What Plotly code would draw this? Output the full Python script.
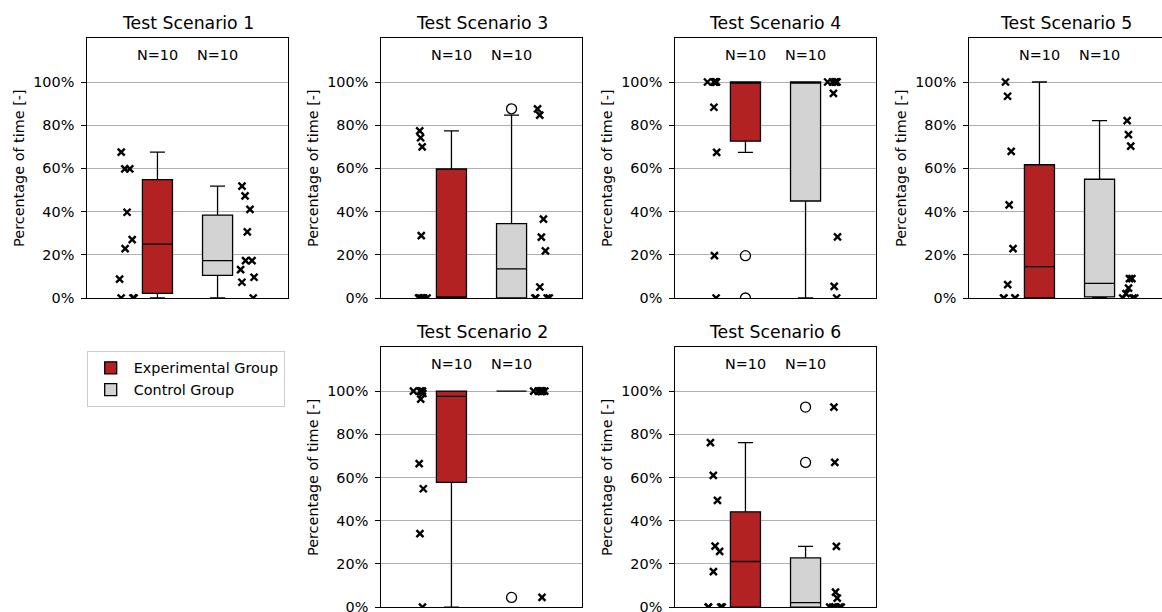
import numpy as np
import plotly.graph_objects as go

# ---- data: percentage of time per participant (N=10 per group) ----
scenario_names = ["Test Scenario 1", "Test Scenario 3", "Test Scenario 4",
                  "Test Scenario 5", "Test Scenario 2", "Test Scenario 6"]
group_names = ["Experimental Group", "Control Group"]

experimental = [
    [0, 0, 0, 8.7, 22.9, 27.0, 39.7, 59.8, 59.8, 67.5],
    [0, 0, 0, 0, 0, 0, 28.9, 70.0, 74.2, 77.4],
    [0, 19.6, 67.4, 88.3, 100, 100, 100, 100, 100, 100],
    [0, 0, 0, 0, 6.2, 22.9, 43.1, 67.9, 93.4, 100],
    [0, 34.0, 54.8, 66.4, 96.3, 98.9, 100, 100, 100, 100],
    [0, 0, 0, 0, 16.4, 25.8, 28.2, 49.4, 61.0, 76.1],
]
control = [
    [0, 7.3, 9.6, 13.1, 17.3, 17.3, 30.6, 41.0, 47.3, 51.8],
    [0, 0, 0, 0, 5.1, 21.8, 28.2, 36.5, 84.7, 87.6],
    [0, 5.4, 28.3, 94.7, 100, 100, 100, 100, 100, 100],
    [0, 0, 0, 2.0, 4.6, 9.0, 9.0, 70.3, 75.6, 82.1],
    [4.5, 100, 100, 100, 100, 100, 100, 100, 100, 100],
    [0, 0, 0, 0, 0, 4.2, 6.9, 28.1, 67.0, 92.6],
]
y_ticks = [0, 20, 40, 60, 80, 100]
y_tick_text = [f"{v}%" for v in y_ticks]

# ---- styling / layout ----
W, H = 1162, 612
FONT = "DejaVu Sans"
BASE = 14.4
group_colors = ["#b22222", "#d3d3d3"]
box_pos = [1, 2]
point_offset = [-0.5, 0.5]

cells = [(0, 0), (0, 1), (0, 2), (0, 3), (1, 1), (1, 2)]
col_left = [87.3, 381.3, 675.3, 969.3]
col_w = 200.4
row_top = [38.3, 347.4]
row_h = 259.7
px_per_unit = col_w / 3.334
x_left = -0.167
y_top = row_h / 2.16


def box_stats(vals):
    """Linear-interpolated quartiles, 1.5*IQR whiskers and fliers."""
    v = np.asarray(vals, dtype=float)
    q1, med, q3 = np.percentile(v, [25, 50, 75])
    iqr = q3 - q1
    inside = v[(v >= q1 - 1.5 * iqr) & (v <= q3 + 1.5 * iqr)]
    fliers = v[(v < q1 - 1.5 * iqr) | (v > q3 + 1.5 * iqr)]
    return q1, med, q3, inside.min(), inside.max(), fliers


fig = go.Figure()
annotations = []

for i, (name, cell) in enumerate(zip(scenario_names, cells)):
    r, c = cell
    n = i + 1
    xa = "x" if n == 1 else f"x{n}"
    ya = "y" if n == 1 else f"y{n}"

    left = col_left[c]
    right = min(left + col_w, W)
    top = row_top[r]
    bottom = top + row_h

    groups = [experimental[i], control[i]]
    for g, vals in enumerate(groups):
        q1, med, q3, lo, hi, fliers = box_stats(vals)
        fig.add_trace(go.Box(
            x=[box_pos[g]], q1=[q1], median=[med], q3=[q3],
            lowerfence=[lo], upperfence=[hi],
            width=0.5, xaxis=xa, yaxis=ya,
            name=group_names[g], showlegend=False,
            fillcolor=group_colors[g],
            line=dict(color="black", width=1.3),
            whiskerwidth=0.5, boxpoints=False, hoverinfo="skip",
        ))
        if len(fliers):
            fig.add_trace(go.Scatter(
                x=[box_pos[g]] * len(fliers), y=fliers, mode="markers",
                xaxis=xa, yaxis=ya, showlegend=False, hoverinfo="skip",
                marker=dict(symbol="circle-open", size=10, color="black",
                            line=dict(width=1.3)),
            ))
        # jittered individual observations beside the box
        fig.add_trace(go.Box(
            y=vals, x0=box_pos[g] + point_offset[g], width=0.36,
            xaxis=xa, yaxis=ya, showlegend=False,
            fillcolor="rgba(0,0,0,0)",
            line=dict(color="rgba(0,0,0,0)", width=0),
            boxpoints="all", pointpos=0, jitter=1,
            marker=dict(symbol="x-thin", size=7, color="black",
                        line=dict(width=2.4, color="black")),
            hoverinfo="skip",
        ))
        annotations.append(dict(
            xref=xa, yref=ya, x=box_pos[g], y=112.5, text=f"N={len(vals)}",
            showarrow=False, yanchor="middle",
            font=dict(family=FONT, size=BASE, color="black"),
        ))

    annotations.append(dict(
        xref=f"{xa} domain", yref=f"{ya} domain", x=0.5, y=1,
        text=name, showarrow=False, yanchor="bottom", yshift=3,
        font=dict(family=FONT, size=17.3, color="black"),
    ))

    xkey = "xaxis" if n == 1 else f"xaxis{n}"
    ykey = "yaxis" if n == 1 else f"yaxis{n}"
    fig.update_layout({
        xkey: dict(
            domain=[left / W, right / W], anchor=ya, type="linear",
            range=[x_left, x_left + (right - left) / px_per_unit],
            showticklabels=False, ticks="", showgrid=False, zeroline=False,
            showline=True, mirror=True, linecolor="black", linewidth=1.1,
        ),
        ykey: dict(
            domain=[1 - bottom / H, 1 - top / H], anchor=xa,
            range=[0, y_top], tickvals=y_ticks, ticktext=y_tick_text,
            ticklabeloverflow="allow", ticklabelstandoff=4,
            showgrid=True, gridcolor="#b0b0b0", gridwidth=1,
            zeroline=False, ticks="outside", ticklen=5, tickwidth=1.1,
            tickcolor="black", showline=True, mirror=True,
            linecolor="black", linewidth=1.1,
            tickfont=dict(family=FONT, size=BASE, color="black"),
            title=dict(text="Percentage of time [-]", standoff=5,
                       font=dict(family=FONT, size=BASE, color="black")),
        ),
    })

# legend entries as patches (rectangles) for the two groups
for g in range(2):
    fig.add_shape(
        type="rect", xref="paper", yref="paper",
        x0=0.12, x1=0.12, y0=0.38, y1=0.38,
        fillcolor=group_colors[g], line=dict(color="black", width=1.3),
        showlegend=True, name=group_names[g], layer="below",
    )

fig.update_layout(
    width=W, height=H,
    margin=dict(l=0, r=0, t=0, b=0, autoexpand=False),
    paper_bgcolor="white", plot_bgcolor="white",
    boxmode="overlay",
    font=dict(family=FONT, size=BASE, color="black"),
    annotations=annotations,
    legend=dict(
        x=86.7 / W, y=1 - 351 / H, xanchor="left", yanchor="top",
        bordercolor="#cccccc", borderwidth=1, bgcolor="white",
        font=dict(family=FONT, size=BASE, color="black"),
        tracegroupgap=0, itemwidth=36,
    ),
)

fig.write_html("out.html")
